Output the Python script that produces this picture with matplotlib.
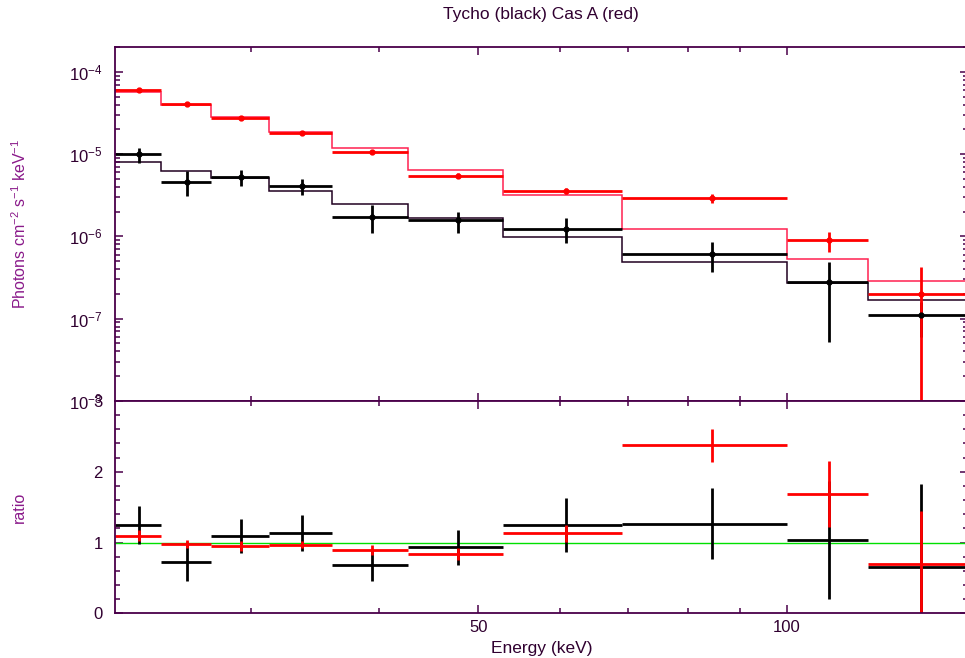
import matplotlib
matplotlib.use("Agg")
import matplotlib.pyplot as plt
import numpy as np

plt.rcParams["font.family"] = ["Liberation Sans", "DejaVu Sans"]
plt.rcParams["mathtext.fontset"] = "custom"
plt.rcParams["mathtext.rm"] = "Liberation Sans"
plt.rcParams["mathtext.it"] = "Liberation Sans"

FRAME, TEXT, LABEL = "#4a004a", "#300030", "#8a1a8a"
RED, BLACK, GREEN = "#ff0000", "#000000", "#00e000"

# energy bins (keV)
edges = [22.1, 24.5, 27.4, 31.2, 36.0, 42.7, 52.8, 69.0, 100.0, 120.0, 150.0]

# Tycho (black): flux, error bounds, model
tycho_flux = [1.0e-5, 4.64e-6, 5.25e-6, 4.04e-6, 1.74e-6, 1.59e-6, 1.22e-6, 6.18e-7, 2.76e-7, 1.1e-7]
tycho_lo = [7.76e-6, 3.1e-6, 4.04e-6, 3.2e-6, 1.11e-6, 1.09e-6, 8.26e-7, 3.73e-7, 5.26e-8, 6.0e-8]
tycho_hi = [1.2e-5, 6.25e-6, 6.44e-6, 5.0e-6, 2.42e-6, 2.0e-6, 1.66e-6, 8.65e-7, 4.94e-7, 1.6e-7]
tycho_model = [7.98e-6, 6.25e-6, 5.1e-6, 3.57e-6, 2.48e-6, 1.68e-6, 9.8e-7, 4.94e-7, 2.74e-7, 1.69e-7]

# Cas A (red)
cas_flux = [6.03e-5, 4.08e-5, 2.76e-5, 1.81e-5, 1.06e-5, 5.48e-6, 3.57e-6, 2.91e-6, 9.06e-7, 2.0e-7]
cas_lo = [5.8e-5, 3.95e-5, 2.65e-5, 1.75e-5, 1.0e-5, 5.1e-6, 3.3e-6, 2.57e-6, 6.53e-7, 5e-9]
cas_hi = [6.3e-5, 4.2e-5, 2.85e-5, 1.88e-5, 1.12e-5, 5.9e-6, 3.85e-6, 3.3e-6, 1.14e-6, 4.3e-7]
cas_model = [5.66e-5, 4.0e-5, 2.84e-5, 1.87e-5, 1.17e-5, 6.44e-6, 3.2e-6, 1.23e-6, 5.28e-7, 2.9e-7]

# data / model ratios
tycho_ratio = [1.252, 0.732, 1.096, 1.135, 0.681, 0.931, 1.252, 1.267, 1.035, 0.652]
tycho_ratio_err = [0.27, 0.28, 0.24, 0.25, 0.23, 0.25, 0.38, 0.50, 0.83, 1.18]
cas_ratio = [1.096, 0.979, 0.945, 0.969, 0.898, 0.837, 1.13, 2.373, 1.683, 0.69]
cas_ratio_err = [0.08, 0.05, 0.07, 0.05, 0.07, 0.08, 0.12, 0.23, 0.47, 0.75]

e = np.array(edges)
lo_e, hi_e = e[:-1], e[1:]
mid = (lo_e + hi_e) / 2
xerr = [mid - lo_e, hi_e - mid]

fig = plt.figure(figsize=(9.65, 6.58), dpi=100)
ax1 = fig.add_axes([0.1192, 0.3906, 0.8834, 0.5380])
ax2 = fig.add_axes([0.1192, 0.0679, 0.8834, 0.3227], sharex=ax1)


def style(ax):
    for s in ax.spines.values():
        s.set_color(FRAME); s.set_linewidth(1.3)
    ax.tick_params(which="both", direction="in", top=True, right=True,
                   colors=FRAME, labelcolor=TEXT, labelsize=12, width=1.1)
    ax.tick_params(which="major", length=6, pad=9)
    ax.tick_params(which="minor", length=3.5)


# spectra
for flux, lo, hi, model, c, mc in [
    (tycho_flux, tycho_lo, tycho_hi, tycho_model, BLACK, "#200020"),
    (cas_flux, cas_lo, cas_hi, cas_model, RED, "#ff2050"),
]:
    f = np.array(flux)
    ax1.stairs(model, edges, baseline=None, color=mc, lw=1.1)
    ax1.errorbar(mid, f, xerr=xerr, yerr=[f - np.array(lo), np.array(hi) - f],
                 fmt="o", ms=3.5, color=c, elinewidth=2.0, capsize=0)

ax1.set_xscale("log")
ax1.set_yscale("log")
ax1.set_xlim(22.1, 150)
ax1.set_ylim(1e-8, 2e-4)
ax1.set_yticks([1e-4, 1e-5, 1e-6, 1e-7, 1e-8])
ax1.set_yticklabels([r"$\mathregular{10^{-%d}}$" % k for k in (4, 5, 6, 7, 8)])
ax1.set_ylabel(r"Photons cm$^{-2}$ s$^{-1}$ keV$^{-1}$", color=LABEL, fontsize=11.5)
ax1.yaxis.label.set_va("center")
ax1.yaxis.set_label_coords(-0.112, 0.5)
ax1.set_title("Tycho (black) Cas A (red)", color=TEXT, fontsize=12.5, pad=20)
style(ax1)
ax1.tick_params(axis="x", labelbottom=False)

# ratios
ax2.axhline(1, color=GREEN, lw=1.0)
for r, err, c in [(tycho_ratio, tycho_ratio_err, BLACK), (cas_ratio, cas_ratio_err, RED)]:
    ax2.errorbar(mid, r, xerr=xerr, yerr=err, fmt="none", color=c,
                 elinewidth=2.0, capsize=0)
ax2.set_ylim(0, 3)
ax2.set_yticks([0, 1, 2, 3])
ax2.set_yticks(np.arange(0, 3.01, 0.2), minor=True)
ax2.set_ylabel("ratio", color=LABEL, fontsize=11.5)
ax2.yaxis.label.set_va("center")
ax2.yaxis.set_label_coords(-0.112, 0.5)
ax2.set_xlabel("Energy (keV)", color=TEXT, fontsize=12.5, labelpad=4)
style(ax2)

ax2.set_xticks([50, 100])
ax2.set_xticklabels(["50", "100"])
ax2.set_xticks([30, 40, 60, 70, 80, 90], minor=True)
ax2.xaxis.set_minor_formatter(matplotlib.ticker.NullFormatter())
ax2.tick_params(axis="x", pad=5)

fig.savefig("out.png", dpi=100)
